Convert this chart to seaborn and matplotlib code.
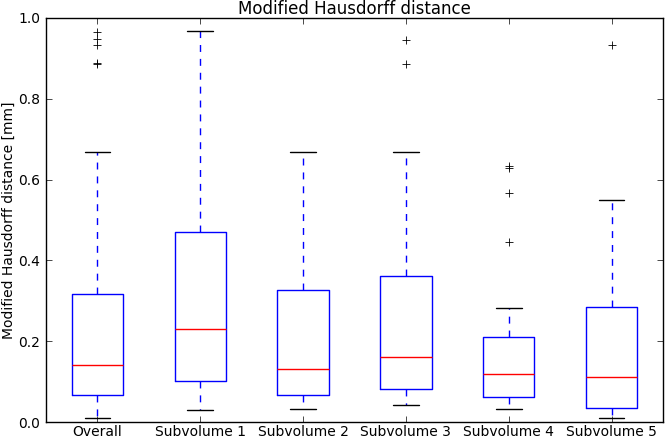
import matplotlib

matplotlib.use("Agg")
import matplotlib.pyplot as plt  # noqa: E402
import seaborn as sns  # noqa: E402

# box statistics
labels = ["Overall", "Subvolume 1", "Subvolume 2", "Subvolume 3", "Subvolume 4", "Subvolume 5"]
whislo = [0.010, 0.030, 0.032, 0.043, 0.031, 0.010]
q1 = [0.067, 0.102, 0.067, 0.082, 0.061, 0.035]
med = [0.141, 0.229, 0.130, 0.162, 0.118, 0.111]
q3 = [0.317, 0.470, 0.326, 0.361, 0.211, 0.284]
whishi = [0.669, 0.968, 0.669, 0.668, 0.281, 0.550]
fliers = [
    [0.966, 0.947, 0.933, 0.889, 0.887],
    [],
    [],
    [0.946, 0.887],
    [0.634, 0.628, 0.566, 0.446],
    [0.932],
]

sns.set_theme(style="white", rc={
    "axes.edgecolor": "black",
    "axes.linewidth": 1.0,
    "xtick.direction": "in",
    "ytick.direction": "in",
    "xtick.top": True,
    "ytick.right": True,
    "xtick.bottom": True,
    "ytick.left": True,
    "xtick.major.size": 4,
    "ytick.major.size": 4,
    "xtick.major.width": 0.5,
    "ytick.major.width": 0.5,
    "xtick.color": "black",
    "ytick.color": "black",
    "text.color": "black",
    "axes.labelcolor": "black",
})
plt.rcParams["font.family"] = ["DejaVu Sans"]

stats = [
    dict(label=l, whislo=a, q1=b, med=c, q3=d, whishi=e, fliers=f)
    for l, a, b, c, d, e, f in zip(labels, whislo, q1, med, q3, whishi, fliers)
]

fig, ax = plt.subplots(figsize=(6.67, 4.38), dpi=100)
fig.subplots_adjust(left=0.069, right=0.994, bottom=0.0365, top=0.959)

ax.bxp(
    stats, widths=0.5,
    boxprops=dict(color="#0000ff", linewidth=1.0),
    whiskerprops=dict(color="#0000ff", linestyle="--", linewidth=1.0, dashes=(5, 5)),
    capprops=dict(color="black", linewidth=1.0),
    medianprops=dict(color="red", linewidth=1.0),
    flierprops=dict(marker="+", markeredgecolor="black", markersize=6,
                    markeredgewidth=0.6, linestyle="none"),
)

ax.set_xlim(0.5, 6.5)
ax.set_ylim(0, 1.0)
ax.set_yticks([0.0, 0.2, 0.4, 0.6, 0.8, 1.0])
ax.tick_params(labelsize=10)
ax.tick_params(axis="x", pad=2.5)
ax.tick_params(axis="y", pad=4)
ax.set_ylabel("Modified Hausdorff distance [mm]", fontsize=10, labelpad=2)
ax.set_title("Modified Hausdorff distance", fontsize=12, pad=3)

fig.savefig("out.png", dpi=100)
